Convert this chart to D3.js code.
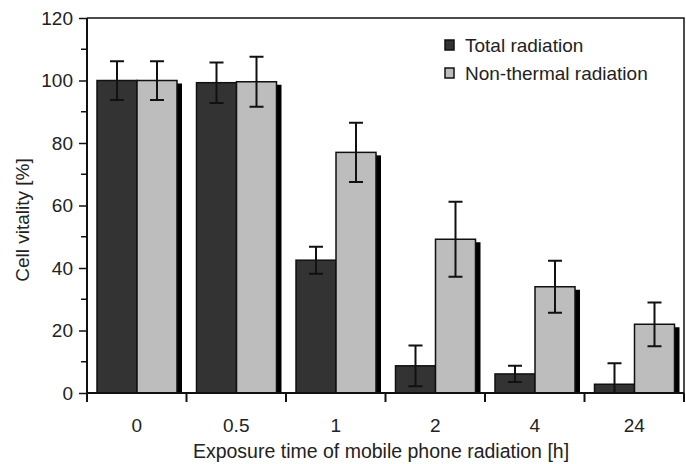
<html>
<head>
  <script src="https://d3js.org/d3.v7.min.js"></script>
</head>
<style type="text/css">
body { margin: 0; background: #fff; }
text { font-family: "Liberation Sans", Arial, sans-serif; fill: #222; }
</style>
<body>
<script>

// data
var categories = ["0", "0.5", "1", "2", "4", "24"];
var series = ["Total radiation", "Non-thermal radiation"];
var totalValues = [100, 99.3, 42.5, 8.7, 6.1, 2.8];
var totalErrors = [6.2, 6.5, 4.3, 6.5, 2.6, 6.7];
var thermalValues = [100, 99.6, 77, 49.2, 34, 22];
var thermalErrors = [6.2, 8, 9.5, 12, 8.3, 7];
var yTicks = [0, 20, 40, 60, 80, 100, 120];
var yMinorTicks = [10, 30, 50, 70, 90, 110];

var colors = ["#333333", "#bdbdbd"],
    width = 686,
    height = 464,
    fontSize = "19px",
    margin = {top: 18, right: 2, bottom: 71, left: 87};

var x = d3.scaleBand()
    .domain(categories)
    .range([margin.left, width - margin.right]);

var x1 = d3.scaleBand()
    .domain(series)
    .range([10, 90]);

var y = d3.scaleLinear()
    .domain([0, 120])
    .range([height - margin.bottom, margin.top]);

var svg = d3.select("body")
    .append("svg")
    .attr("width", width)
    .attr("height", height);

var data = categories.map(function(c, i) {
  return [
    {cat: c, s: series[0], v: totalValues[i], e: totalErrors[i], color: colors[0]},
    {cat: c, s: series[1], v: thermalValues[i], e: thermalErrors[i], color: colors[1]}
  ];
});

// frame (top + right)
svg.append("path")
   .attr("d", "M" + margin.left + "," + margin.top + "H" + (width - margin.right) + "V" + y(0))
   .attr("fill", "none")
   .attr("stroke", "#111")
   .attr("stroke-width", 1.5);

var groups = svg.selectAll(".grp")
   .data(data)
   .enter().append("g")
   .attr("class", "grp")
   .attr("transform", function(d) { return "translate(" + x(d[0].cat) + ",0)"; });

groups.each(function(d) {
  var g = d3.select(this);
  d.forEach(function(b) {
    // shadow
    g.append("rect")
     .attr("x", x1(b.s) + 5)
     .attr("y", y(b.v) + 3)
     .attr("width", x1.bandwidth())
     .attr("height", y(0) - y(b.v) - 3)
     .attr("fill", "#000");
    g.append("rect")
     .attr("x", x1(b.s))
     .attr("y", y(b.v))
     .attr("width", x1.bandwidth())
     .attr("height", y(0) - y(b.v))
     .attr("fill", b.color)
     .attr("stroke", "#111")
     .attr("stroke-width", 1.5);
  });
  d.forEach(function(b) {
    var cx = x1(b.s) + x1.bandwidth() / 2;
    var lo = Math.max(0, b.v - b.e), hi = b.v + b.e;
    g.append("path")
     .attr("d", "M" + cx + "," + y(lo) + "V" + y(hi) +
                "M" + (cx - 7) + "," + y(hi) + "h14" +
                "M" + (cx - 7) + "," + y(lo) + "h14")
     .attr("fill", "none")
     .attr("stroke", "#111")
     .attr("stroke-width", 2);
  });
});

// y axis
var yAxis = svg.append("g")
   .attr("transform", "translate(" + margin.left + ",0)")
   .call(d3.axisLeft(y).tickValues(yTicks).tickSize(8).tickPadding(6));
yAxis.select(".domain").attr("stroke", "#111").attr("stroke-width", 2)
     .attr("d", "M0," + margin.top + "V" + (y(0) + 9));
yAxis.selectAll(".tick line").attr("stroke", "#111").attr("stroke-width", 1.5);
yAxis.selectAll("text").style("font-size", fontSize).attr("fill", "#222")
     .style("font-family", "Liberation Sans, Arial, sans-serif");

svg.append("g")
   .selectAll("line")
   .data(yMinorTicks)
   .enter().append("line")
   .attr("x1", margin.left - 6)
   .attr("x2", margin.left)
   .attr("y1", function(d) { return y(d); })
   .attr("y2", function(d) { return y(d); })
   .attr("stroke", "#111")
   .attr("stroke-width", 1.5);

// x axis
svg.append("line")
   .attr("x1", margin.left)
   .attr("x2", width - margin.right)
   .attr("y1", y(0))
   .attr("y2", y(0))
   .attr("stroke", "#111")
   .attr("stroke-width", 2);

svg.append("g")
   .selectAll("line")
   .data(categories)
   .enter().append("line")
   .attr("x1", function(d) { return x(d) + x.bandwidth(); })
   .attr("x2", function(d) { return x(d) + x.bandwidth(); })
   .attr("y1", y(0))
   .attr("y2", y(0) + 9)
   .attr("stroke", "#111")
   .attr("stroke-width", 2);

svg.append("g")
   .selectAll("text")
   .data(categories)
   .enter().append("text")
   .attr("x", function(d) { return x(d) + x.bandwidth() / 2; })
   .attr("y", 432)
   .attr("text-anchor", "middle")
   .style("font-size", fontSize)
   .text(function(d) { return d; });

svg.append("text")
   .attr("x", 381)
   .attr("y", 458)
   .attr("text-anchor", "middle")
   .style("font-size", "19.5px")
   .text("Exposure time of mobile phone radiation [h]");

svg.append("text")
   .attr("transform", "translate(29," + 220 + ")rotate(-90)")
   .attr("text-anchor", "middle")
   .style("font-size", fontSize)
   .text("Cell vitality [%]");

// legend
var legend = svg.selectAll(".legend")
   .data(series)
   .enter().append("g")
   .attr("class", "legend")
   .attr("transform", function(d, i) { return "translate(445," + (40 + i * 28) + ")"; });

legend.append("rect")
   .attr("width", 9)
   .attr("height", 10)
   .attr("fill", function(d, i) { return colors[i]; })
   .attr("stroke", "#111")
   .attr("stroke-width", 1.5);

legend.append("text")
   .attr("x", 20)
   .attr("y", 12)
   .style("font-size", fontSize)
   .text(function(d) { return d; });

</script>
</body>
</html>
